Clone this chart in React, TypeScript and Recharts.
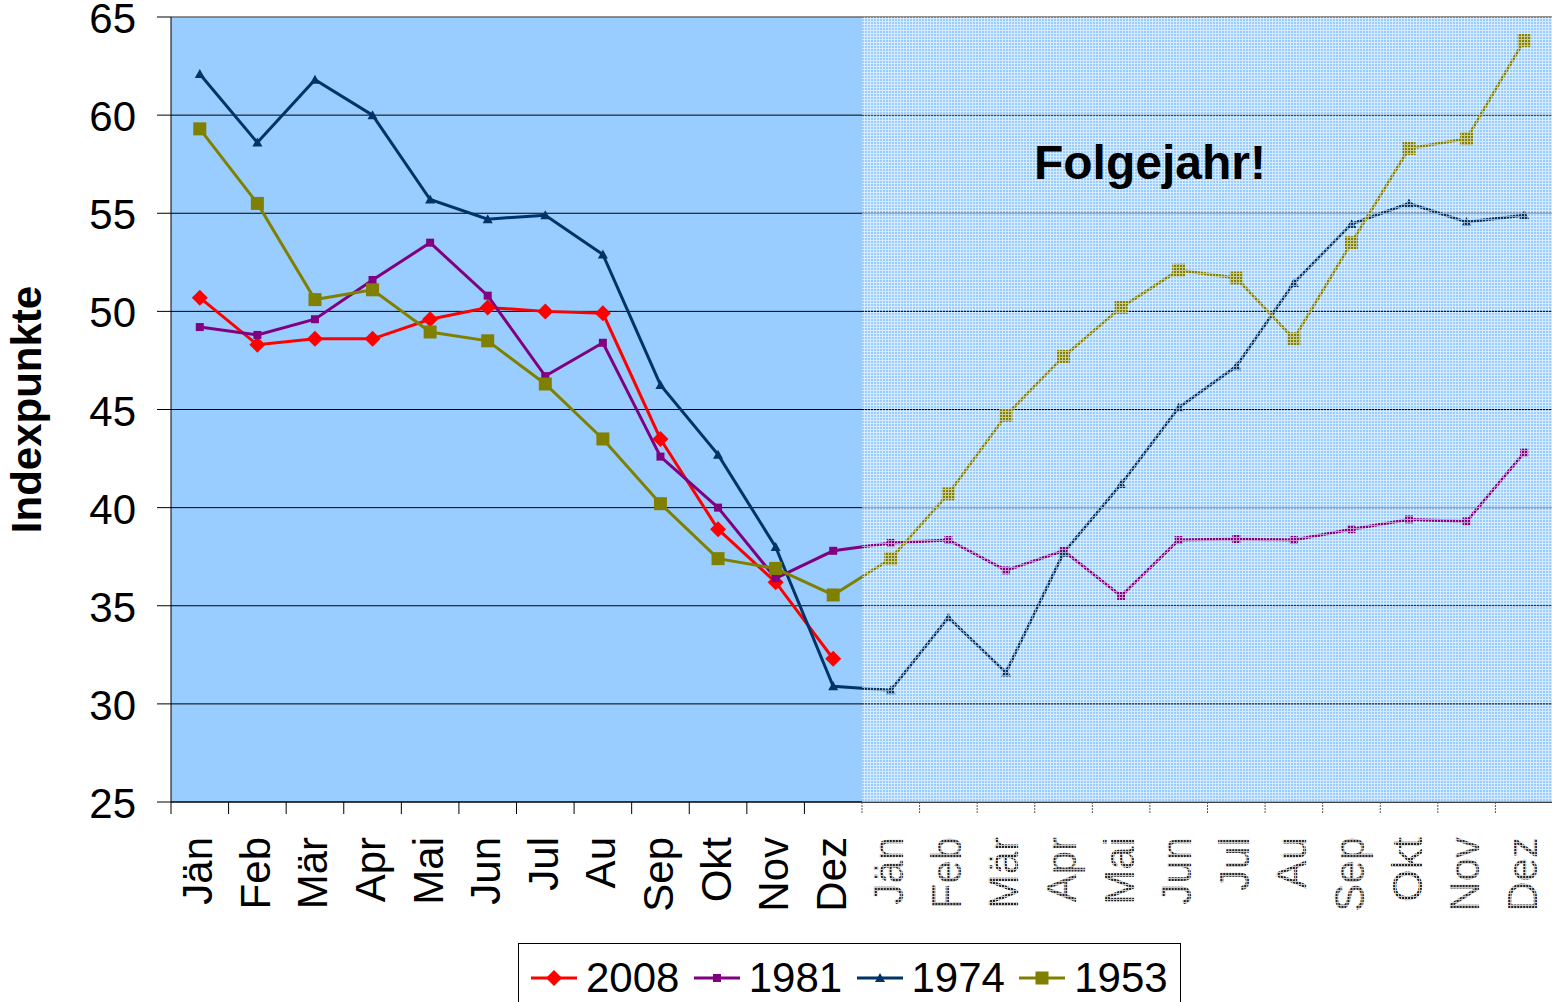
import React from "react"
import {
  LineChart,
  Line,
  XAxis,
  YAxis,
  CartesianGrid,
  ReferenceArea,
  ReferenceLine,
} from "recharts"

// Monatsnamen: Krisenjahr + Folgejahr
const months = [
  "Jän", "Feb", "Mär", "Apr", "Mai", "Jun", "Jul", "Au", "Sep", "Okt", "Nov", "Dez",
  "Jän", "Feb", "Mär", "Apr", "Mai", "Jun", "Jul", "Au", "Sep", "Okt", "Nov", "Dez",
]

const v2008 = [50.7, 48.3, 48.6, 48.6, 49.6, 50.2, 50.0, 49.9, 43.5, 38.9, 36.2, 32.3]
const v1981 = [
  49.2, 48.8, 49.6, 51.6, 53.5, 50.8, 46.7, 48.4, 42.6, 40.0, 36.4, 37.8,
  38.2, 38.35, 36.8, 37.8, 35.5, 38.35, 38.4, 38.35, 38.9, 39.4, 39.3, 42.8,
]
const v1974 = [
  62.1, 58.6, 61.8, 60.0, 55.7, 54.7, 54.9, 52.9, 46.25, 42.7, 38.0, 30.9,
  30.7, 34.4, 31.6, 37.7, 41.2, 45.1, 47.2, 51.45, 54.45, 55.5, 54.55, 54.9,
]
const v1953 = [
  59.3, 55.5, 50.6, 51.1, 48.95, 48.5, 46.3, 43.5, 40.2, 37.4, 36.9, 35.55,
  37.4, 40.7, 44.7, 47.7, 50.2, 52.1, 51.7, 48.6, 53.5, 58.3, 58.8, 63.8,
]
const yTicks = [25, 30, 35, 40, 45, 50, 55, 60, 65]

const series = [
  { key: "s2008", name: "2008", color: "#FF0000", marker: "diamond" },
  { key: "s1981", name: "1981", color: "#800080", marker: "smallSquare" },
  { key: "s1974", name: "1974", color: "#003366", marker: "triangle" },
  { key: "s1953", name: "1953", color: "#808000", marker: "square" },
]

const data = months.map((m, i) => ({
  key: `m${i}`,
  s2008: v2008[i] ?? null,
  s1981: v1981[i] ?? null,
  s1974: v1974[i] ?? null,
  s1953: v1953[i] ?? null,
}))

const FONT = "Arial, 'Liberation Sans', sans-serif"

function markerShape(kind: string, cx: number, cy: number, color: string, key?: any) {
  if (kind === "diamond") {
    const r = 8
    return <path key={key} d={`M${cx},${cy - r}L${cx + r},${cy}L${cx},${cy + r}L${cx - r},${cy}Z`} fill={color} />
  }
  if (kind === "triangle") {
    return <path key={key} d={`M${cx},${cy - 5}L${cx + 5},${cy + 4}L${cx - 5},${cy + 4}Z`} fill={color} />
  }
  const h = kind === "square" ? 6.5 : 4
  return <rect key={key} x={cx - h} y={cy - h} width={h * 2} height={h * 2} fill={color} />
}

const makeDot = (kind: string, color: string) => (props: any) => {
  const { cx, cy, index } = props
  if (cx == null || cy == null || props.value == null) return <g key={index} />
  return markerShape(kind, cx, cy, color, index)
}

const XTick = (props: any) => {
  const { x, y, payload } = props
  const idx = props.index ?? parseInt(String(payload.value).slice(1), 10)
  const half = payload.offset ?? 0
  const faded = idx >= 12
  return (
    <g>
      <line
        x1={x - half}
        y1={y}
        x2={x - half}
        y2={y + 12}
        stroke={faded ? "#555" : "#000"}
        strokeWidth={1}
        strokeDasharray={faded ? "2 1" : undefined}
      />
      <text
        x={0}
        y={0}
        transform={`translate(${x - 2},${y + 35}) rotate(-90)`}
        textAnchor="end"
        dominantBaseline="central"
        fontSize={42}
        fill={faded ? "url(#speck)" : "#000"}
      >
        {months[idx]}
      </text>
    </g>
  )
}

const YTick = (props: any) => {
  const { x, y, payload } = props
  return (
    <text x={x} y={y + 1} dy="0.36em" textAnchor="end" fontSize={42} fill="#000">
      {payload.value}
    </text>
  )
}

const YLabel = (props: any) => {
  const vb = props.viewBox || { x: 0, y: 0, width: 0, height: 0 }
  const cx = vb.x + 26
  const cy = vb.y + vb.height / 2
  return (
    <text
      x={cx}
      y={cy}
      transform={`rotate(-90, ${cx}, ${cy})`}
      textAnchor="middle"
      dominantBaseline="central"
      fontSize={42}
      fontWeight="bold"
      fill="#000"
    >
      Indexpunkte
    </text>
  )
}

function LegendBox() {
  return (
    <div
      style={{
        position: "absolute",
        left: 518,
        top: 943,
        width: 663,
        height: 70,
        border: "1px solid #000",
        background: "#fff",
        display: "flex",
        alignItems: "center",
        paddingLeft: 10,
        boxSizing: "border-box",
        fontFamily: FONT,
        fontSize: 42,
      }}
    >
      {series.map((s) => (
        <div key={s.key} style={{ display: "flex", alignItems: "center", width: 166 }}>
          <svg width={50} height={24} style={{ marginRight: 7 }}>
            <line x1={2} y1={12} x2={48} y2={12} stroke={s.color} strokeWidth={3} />
            {markerShape(s.marker, 25, 12, s.color)}
          </svg>
          <span style={{ lineHeight: "42px" }}>{s.name}</span>
        </div>
      ))}
    </div>
  )
}

export default function App() {
  return (
    <div
      style={{
        position: "absolute",
        left: 0,
        top: 0,
        width: 1552,
        height: 1002,
        overflow: "hidden",
        background: "#fff",
        fontFamily: FONT,
      }}
    >
      <LineChart
        width={1553}
        height={1002}
        data={data}
        margin={{ top: 17, right: 0, bottom: 90, left: 0 }}
      >
        <defs>
          <pattern id="fade" width={3} height={3} patternUnits="userSpaceOnUse">
            <rect x={0} y={0} width={3} height={1} fill="#fff" fillOpacity={0.6} />
            <rect x={0} y={1} width={1} height={2} fill="#fff" fillOpacity={0.6} />
          </pattern>
          <pattern id="speck" width={3} height={3} patternUnits="userSpaceOnUse">
            <rect x={0} y={0} width={3} height={3} fill="#222" />
            <rect x={0} y={0} width={3} height={1} fill="#fff" fillOpacity={0.75} />
            <rect x={0} y={1} width={1} height={2} fill="#fff" fillOpacity={0.75} />
          </pattern>
        </defs>
        <CartesianGrid
          vertical={false}
          stroke="#000"
          strokeWidth={1}
          fill="#99CCFF"
          fillOpacity={1}
        />
        <XAxis
          dataKey="key"
          scale="band"
          interval={0}
          height={110}
          tickLine={false}
          tickSize={0}
          tickMargin={0}
          axisLine={{ stroke: "#000", strokeWidth: 1 }}
          tick={<XTick />}
        />
        <YAxis
          domain={[25, 65]}
          ticks={yTicks}
          interval={0}
          width={171}
          tickSize={14}
          tickMargin={21}
          axisLine={{ stroke: "#000", strokeWidth: 1 }}
          tickLine={{ stroke: "#000", strokeWidth: 1 }}
          tick={<YTick />}
          label={<YLabel />}
        />
        <ReferenceLine y={65} stroke="#a0a0a0" strokeWidth={1} />
        {series.map((s) => (
          <Line
            key={s.key}
            dataKey={s.key}
            type="linear"
            stroke={s.color}
            strokeWidth={3}
            dot={makeDot(s.marker, s.color)}
            activeDot={false}
            connectNulls={false}
            isAnimationActive={false}
          />
        ))}
        <ReferenceArea
          x1="m12"
          y1={25}
          y2={65}
          fill="url(#fade)"
          fillOpacity={1}
          stroke="none"
          {...({ zIndex: 1500 } as any)}
        />
        <ReferenceArea
          x1="m14"
          x2="m19"
          y1={56}
          y2={59.2}
          fill="none"
          fillOpacity={0}
          stroke="none"
          ifOverflow="visible"
          label={{ value: "Folgejahr!", position: "center", fontSize: 48, fontWeight: "bold", fill: "#000" }}
          {...({ zIndex: 1600 } as any)}
        />
      </LineChart>
      <LegendBox />
    </div>
  )
}
